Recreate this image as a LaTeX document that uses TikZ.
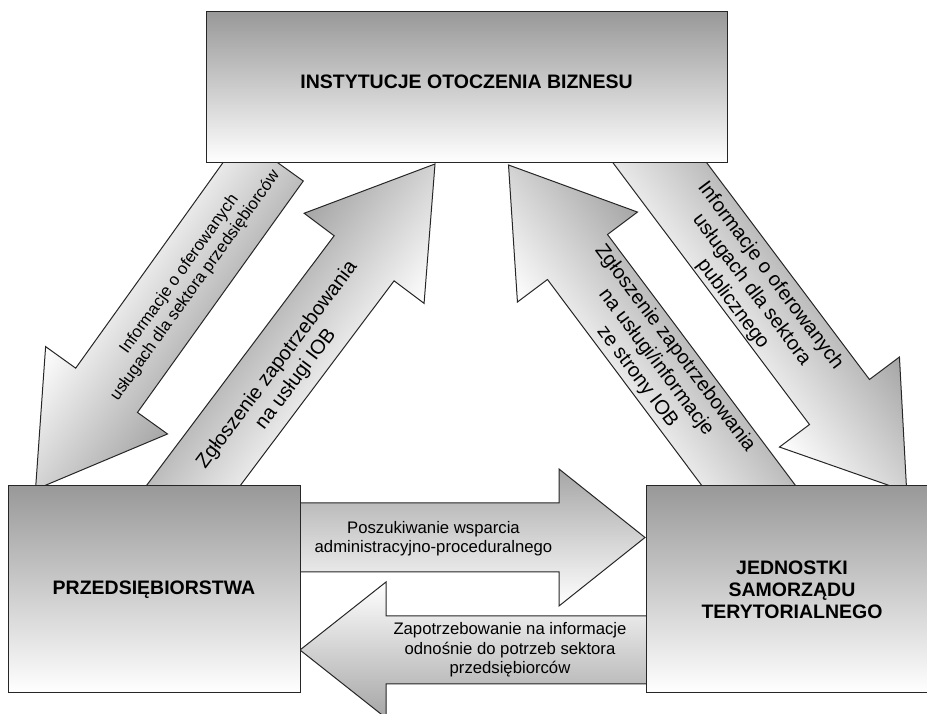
\documentclass[tikz,border=0pt]{standalone}
\usepackage{fontspec}
\setmainfont{Liberation Sans}
\usetikzlibrary{calc}

\newcommand{\boxfont}{\fontsize{19.5}{22}\selectfont\bfseries}
\newcommand{\arrowfont}{\fontsize{20}{23.5}\selectfont}
\newcommand{\smallarrowfont}{\fontsize{16.7}{19.5}\selectfont}

\tikzset{
  box/.style={draw=black!85, line width=1pt, top color=black!40, bottom color=white,
    minimum width=292pt, minimum height=207pt, inner sep=0pt, align=center, font=\boxfont},
  arrowbody/.style={draw=black!85, line width=1pt, top color=black!35, bottom color=white},
  arrowtext/.style={align=center, font=\arrowfont, inner sep=0pt}
}

% block arrow from #2 to #3: shaft width #4, head width #5, head length #6
\newcommand{\blockarrow}[6][]{%
  \path let \p1=($(#3)-(#2)$) in
    \pgfextra{\pgfmathsetmacro{\arrang}{atan2(\y1,\x1)}%
      \pgfmathsetmacro{\arrlen}{veclen(\x1,\y1)}%
      \xdef\arrang{\arrang}\xdef\arrlen{\arrlen}};
  \begin{scope}[transform canvas={shift={(#2)},rotate=\arrang}]
    \shadedraw[arrowbody,#1] (0,-#4/2) -- (\arrlen-#6,-#4/2) -- (\arrlen-#6,-#5/2)
      -- (\arrlen,0) -- (\arrlen-#6,#5/2) -- (\arrlen-#6,#4/2) -- (0,#4/2) -- cycle;
  \end{scope}}

\begin{document}
\begin{tikzpicture}[x=1pt,y=1pt]
    \useasboundingbox (0,0) rectangle (927,714);

    % arrow ends
    \coordinate (oferta-s) at (272.4,555.1);
    \coordinate (oferta-e) at (35.5,224.5);
    \coordinate (zglosz-s) at (175,204);
    \coordinate (zglosz-e) at (435,550);
    \coordinate (zglojst-s) at (767,204);
    \coordinate (zglojst-e) at (508.5,549);
    \coordinate (ofjst-s) at (642,575);
    \coordinate (ofjst-e) at (906.7,222.4);
    \coordinate (wsparcie-s) at (290,176.5);
    \coordinate (wsparcie-e) at (645,176.5);
    \coordinate (zapotrz-s) at (655,64);
    \coordinate (zapotrz-e) at (300,64);

    \blockarrow{oferta-s}{oferta-e}{76}{150}{122}
    \blockarrow{zglosz-s}{zglosz-e}{75}{150}{118}
    \blockarrow[top color=white,bottom color=black!35]{zglojst-s}{zglojst-e}{75}{150}{115}
    \blockarrow{ofjst-s}{ofjst-e}{75}{150}{112}
    \blockarrow{wsparcie-s}{wsparcie-e}{69}{137}{86}
    \blockarrow{zapotrz-s}{zapotrz-e}{68}{136}{86}

    \node[box, minimum width=521pt, minimum height=151pt, text depth=11pt] (iob) at (466.5,626.5) {INSTYTUCJE OTOCZENIA BIZNESU};
    \node[box] (firmy) at (154,124.5) {PRZEDSIĘBIORSTWA};
    \node[box] (jst) at (792,124.5) {JEDNOSTKI\\SAMORZĄDU\\TERYTORIALNEGO};

    \node[arrowtext, font=\smallarrowfont, rotate=54.4] (t-oferta) at (187.5,434) {Informacje o oferowanych\\usługach dla sektora przedsiębiorców};
    \node[arrowtext, rotate=53.1] (t-zglosz) at (286.75,341.75) {Zgłoszenie zapotrzebowania\\na usługi IOB};
    \node[arrowtext, rotate=-53.1] (t-zglojst) at (656,351.5) {Zgłoszenie zapotrzebowania\\na usługi/informacje\\ze strony IOB};
    \node[arrowtext, rotate=-53.1] (t-ofjst) at (751.5,424) {Informacje o oferowanych\\usługach dla sektora\\publicznego};
    \node[arrowtext, font=\smallarrowfont] (t-wsparcie) at (433.5,175.5) {Poszukiwanie wsparcia\\administracyjno-proceduralnego};
    \node[arrowtext, font=\smallarrowfont] (t-zapotrz) at (510,64) {Zapotrzebowanie na informacje\\odnośnie do potrzeb sektora\\przedsiębiorców};
\end{tikzpicture}
\end{document}
